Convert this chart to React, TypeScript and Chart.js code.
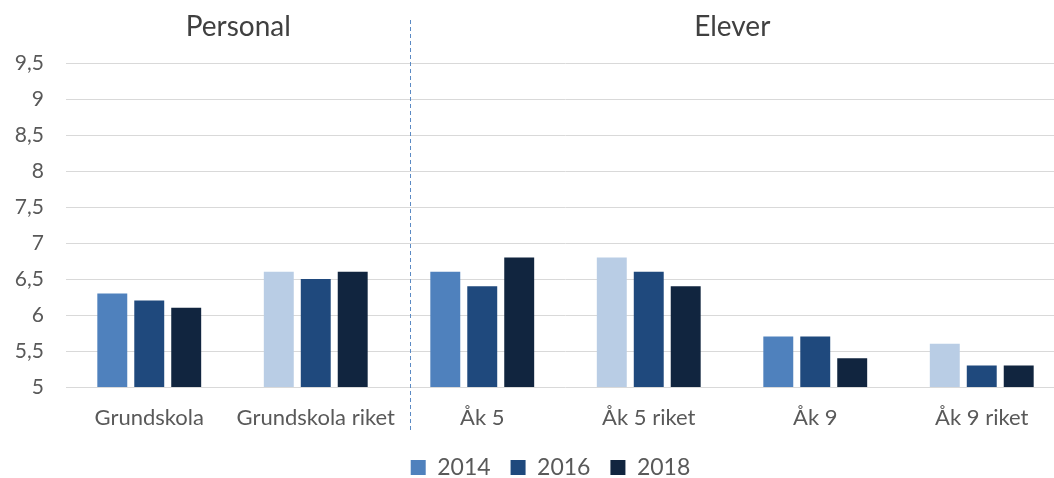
import React, { useEffect, useRef } from "react";
import { Chart, registerables } from "chart.js";

Chart.register(...registerables);

const categories = ["Grundskola", "Grundskola riket", "Åk 5", "Åk 5 riket", "Åk 9", "Åk 9 riket"];
const seriesLabels = ["2014", "2016", "2018"];
const values2014 = [6.3, 6.6, 6.6, 6.8, 5.7, 5.6];
const values2016 = [6.2, 6.5, 6.4, 6.6, 5.7, 5.3];
const values2018 = [6.1, 6.6, 6.8, 6.4, 5.4, 5.3];
const colors2014 = ["#4F81BD", "#B9CDE5", "#4F81BD", "#B9CDE5", "#4F81BD", "#B9CDE5"];
const color2016 = "#1F497D";
const color2018 = "#11253F";
const groupTitles = ["Personal", "Elever"];
const dividerAt = 1.565;
const yMin = 5;
const yMax = 9.5;
const yStep = 0.5;

const FONT = "Lato, 'Open Sans', sans-serif";

const overlayPlugin = {
  id: "overlay",
  afterLayout(chart: any) {
    if (chart.legend) {
      chart.legend.left += 18;
      chart.legend.right += 18;
    }
  },
  afterDraw(chart: any) {
    const ctx = chart.ctx;
    const x = chart.scales.x;
    const area = chart.chartArea;
    const divX = Math.round(x.getPixelForValue(dividerAt)) + 0.5;
    ctx.save();
    ctx.strokeStyle = "#5B8AC4";
    ctx.lineWidth = 1;
    ctx.setLineDash([4, 3]);
    ctx.beginPath();
    ctx.moveTo(divX, 20);
    ctx.lineTo(divX, 432);
    ctx.stroke();
    ctx.setLineDash([]);
    ctx.fillStyle = "#404040";
    ctx.font = "28px " + FONT;
    ctx.textAlign = "center";
    ctx.textBaseline = "middle";
    ctx.fillText(groupTitles[0], (area.left + divX) / 2, 27);
    ctx.fillText(groupTitles[1], (divX + 1054) / 2, 27);
    ctx.restore();
  },
};

export default function App() {
  const ref = useRef<HTMLCanvasElement>(null);
  useEffect(() => {
    if (!ref.current) return;
    const chart = new Chart(ref.current, {
      type: "bar",
      data: {
        labels: categories,
        datasets: [
          { label: seriesLabels[0], data: values2014, backgroundColor: colors2014 },
          { label: seriesLabels[1], data: values2016, backgroundColor: color2016 },
          { label: seriesLabels[2], data: values2018, backgroundColor: color2018 },
        ],
      },
      options: {
        animation: false,
        responsive: true,
        maintainAspectRatio: false,
        layout: { padding: { top: 63, right: 3, left: 0, bottom: 0 } },
        datasets: { bar: { categoryPercentage: 0.666, barPercentage: 0.81 } },
        plugins: {
          legend: {
            position: "bottom",
            labels: {
              font: { family: FONT, size: 23 },
              color: "#595959",
              boxWidth: 15,
              boxHeight: 15,
              padding: 20,
            },
          },
          tooltip: { enabled: false },
          title: { display: false },
        },
        scales: {
          x: {
            grid: { display: false, drawTicks: false },
            border: { display: false },
            ticks: { font: { family: FONT, size: 22 }, color: "#595959", padding: 18, maxRotation: 0 },
            afterFit: (s: any) => {
              s.height = 49;
            },
          },
          y: {
            min: yMin,
            max: yMax,
            grid: { color: "#D9D9D9", drawTicks: false },
            border: { display: false },
            ticks: {
              stepSize: yStep,
              padding: 22,
              font: { family: FONT, size: 21 },
              color: "#595959",
              callback: (v: any) => String(v).replace(".", ","),
            },
            afterFit: (s: any) => {
              s.width = 66;
            },
          },
        },
      },
      plugins: [overlayPlugin],
    });
    return () => chart.destroy();
  }, []);
  return (
    <div style={{ position: "fixed", left: 0, top: 0, width: 1054, height: 478, overflow: "hidden", background: "#fff" }}>
      <div style={{ position: "relative", width: 1068, height: 489 }}>
        <canvas ref={ref} />
      </div>
    </div>
  );
}
